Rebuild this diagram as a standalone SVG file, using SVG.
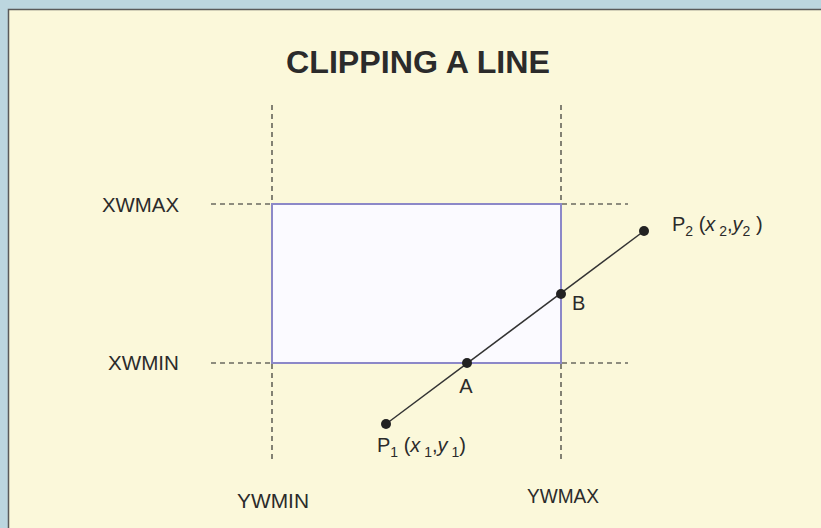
<svg xmlns="http://www.w3.org/2000/svg" width="821" height="528" viewBox="0 0 821 528">
<style>
.lbl{font-family:"Liberation Sans",Arial,sans-serif;font-size:20px;fill:#2b2b2b}
.title{font-family:"Liberation Sans",Arial,sans-serif;font-size:32px;font-weight:bold;fill:#2b2b2b}
.dash{stroke:#222;stroke-width:1.1;stroke-dasharray:5 4;fill:none}
.sub{font-size:14px}
.it{font-style:italic}
.dot{fill:#222}
</style>
<rect x="0" y="0" width="821" height="528" fill="#bcd6df"/>
<rect x="8.5" y="9.5" width="820" height="525" fill="#fbf8da" stroke="#5a5a5a" stroke-width="1.5"/>
<text class="title" x="418" y="73" text-anchor="middle" textLength="264" lengthAdjust="spacingAndGlyphs">CLIPPING A LINE</text>
<g id="window">
<rect x="272" y="204" width="289" height="159" fill="#fbfaff" stroke="#8c88c8" stroke-width="2"/>
</g>
<g id="guides">
<line class="dash" x1="211" y1="204" x2="271" y2="204"/>
<line class="dash" x1="562" y1="204" x2="628" y2="204"/>
<line class="dash" x1="211" y1="363" x2="271" y2="363"/>
<line class="dash" x1="562" y1="363" x2="628" y2="363"/>
<line class="dash" x1="272" y1="105" x2="272" y2="203"/>
<line class="dash" x1="272" y1="364" x2="272" y2="460"/>
<line class="dash" x1="561" y1="105" x2="561" y2="203"/>
<line class="dash" x1="561" y1="364" x2="561" y2="460"/>
</g>
<g id="connectors">
<line x1="386" y1="424" x2="644" y2="231" stroke="#333" stroke-width="1.5"/>
</g>
<g id="P1"><circle class="dot" cx="386" cy="424" r="5"/>
<text class="lbl" x="377" y="452">P<tspan class="sub" dy="5">1</tspan><tspan dy="-5"> (</tspan><tspan class="it">x</tspan><tspan class="sub" dy="5"> 1</tspan><tspan dy="-5">,</tspan><tspan class="it">y</tspan><tspan class="sub" dy="5"> 1</tspan><tspan dy="-5">)</tspan></text></g>
<g id="P2"><circle class="dot" cx="644" cy="231" r="5"/>
<text class="lbl" x="672" y="231">P<tspan class="sub" dy="5">2</tspan><tspan dy="-5"> (</tspan><tspan class="it">x</tspan><tspan class="sub" dy="5"> 2</tspan><tspan dy="-5">,</tspan><tspan class="it">y</tspan><tspan class="sub" dy="5">2</tspan><tspan dy="-5"> )</tspan></text></g>
<g id="A"><circle class="dot" cx="467" cy="363" r="5"/><text class="lbl" x="466" y="393" text-anchor="middle">A</text></g>
<g id="B"><circle class="dot" cx="561" cy="294" r="5"/><text class="lbl" x="572" y="310">B</text></g>
<g id="labels">
<text class="lbl" x="102" y="212" textLength="77" lengthAdjust="spacingAndGlyphs">XWMAX</text>
<text class="lbl" x="108" y="370" textLength="71" lengthAdjust="spacingAndGlyphs">XWMIN</text>
<text class="lbl" x="237" y="508" textLength="72" lengthAdjust="spacingAndGlyphs">YWMIN</text>
<text class="lbl" x="527" y="503" textLength="72" lengthAdjust="spacingAndGlyphs">YWMAX</text>
</g>
</svg>
